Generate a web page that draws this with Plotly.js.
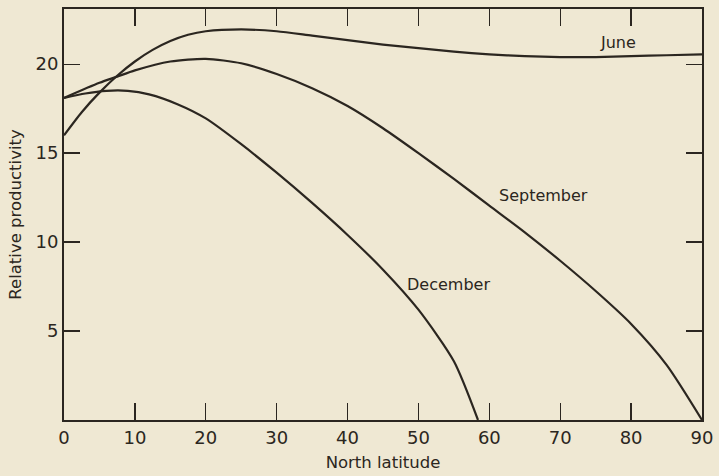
<!DOCTYPE html>
<html><head><meta charset="utf-8">
<script src="https://cdn.plot.ly/plotly-3.0.1.min.js"></script>
<style>html,body{margin:0;padding:0;background:#efe8d3;}</style>
</head><body>
<div id="chart" style="width:719px;height:476px;"></div>
<script>
const juneLat = [0, 2.5, 5, 7.5, 10, 12.5, 15, 17.5, 20, 25, 30, 35, 40, 45, 50, 55, 60, 65, 70, 75, 80, 85, 90];
const juneVal = [16.0, 17.3, 18.4, 19.35, 20.15, 20.8, 21.3, 21.65, 21.85, 21.95, 21.85, 21.6, 21.35, 21.1, 20.9, 20.7, 20.55, 20.45, 20.4, 20.4, 20.45, 20.5, 20.55];
const septLat = [0, 5, 7.5, 10, 15, 20, 25, 30, 35, 40, 45, 50, 55, 60, 65, 70, 75, 80, 85, 90];
const septVal = [18.1, 18.95, 19.3, 19.65, 20.15, 20.3, 20.05, 19.45, 18.65, 17.65, 16.4, 15.0, 13.55, 12.05, 10.55, 8.95, 7.25, 5.4, 3.1, 0];
const decLat = [0, 3, 6, 9, 12, 16, 20, 25, 30, 35, 40, 45, 50, 55, 58.4];
const decVal = [18.1, 18.35, 18.5, 18.5, 18.3, 17.75, 16.95, 15.5, 13.9, 12.2, 10.4, 8.45, 6.2, 3.3, 0];
const xTicks = [0, 10, 20, 30, 40, 50, 60, 70, 80, 90];
const yTicks = [5, 10, 15, 20];
const labels = [
  {text: 'June', x: 78.2, y: 21.2},
  {text: 'September', x: 67.6, y: 12.6},
  {text: 'December', x: 54.3, y: 7.6}
];
const ink = '#2b2620';
const lineStyle = {color: ink, width: 2.2, shape: 'spline', smoothing: 0.7};
const traces = [
  {x: juneLat, y: juneVal, mode: 'lines', line: lineStyle, name: 'June'},
  {x: septLat, y: septVal, mode: 'lines', line: lineStyle, name: 'September'},
  {x: decLat, y: decVal, mode: 'lines', line: lineStyle, name: 'December'}
];
const fam = 'DejaVu Sans, sans-serif';
const layout = {
  width: 719, height: 476,
  paper_bgcolor: '#efe8d3', plot_bgcolor: '#efe8d3',
  margin: {l: 64, r: 17, t: 9, b: 56},
  showlegend: false,
  font: {family: fam, color: ink, size: 16},
  xaxis: {
    range: [0, 90], tickvals: xTicks, ticktext: xTicks.map(String),
    ticks: 'inside', ticklen: 17, tickwidth: 1.3, tickcolor: ink,
    showline: true, linecolor: ink, linewidth: 2, mirror: 'ticks',
    showgrid: false, zeroline: false,
    tickfont: {family: fam, size: 18, color: ink},
    title: {text: 'North latitude', font: {family: fam, size: 16.5, color: ink}, standoff: 10}
  },
  yaxis: {
    range: [0, 23.1], tickvals: yTicks, ticktext: yTicks.map(String),
    ticks: 'inside', ticklen: 16, tickwidth: 1.3, tickcolor: ink,
    showline: true, linecolor: ink, linewidth: 2, mirror: 'ticks',
    showgrid: false, zeroline: false,
    tickfont: {family: fam, size: 18, color: ink},
    title: {text: 'Relative productivity', font: {family: fam, size: 16.5, color: ink}, standoff: 10}
  },
  annotations: labels.map(l => ({
    text: l.text, x: l.x, y: l.y, xref: 'x', yref: 'y', showarrow: false,
    font: {family: fam, size: 16, color: ink}
  }))
};
Plotly.newPlot('chart', traces, layout, {displayModeBar: false, staticPlot: true});
</script>
</body></html>
